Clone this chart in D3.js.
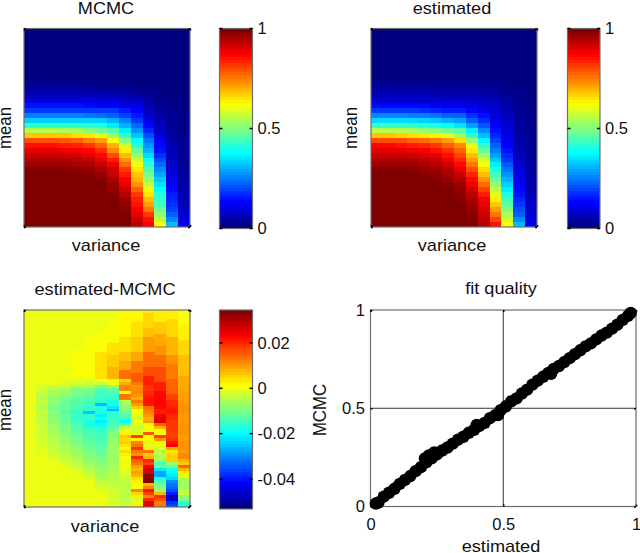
<!DOCTYPE html>
<html>
<head>
<meta charset="utf-8">
<script src="https://cdn.jsdelivr.net/npm/d3@7"></script>
<style>
    html, body { margin: 0; padding: 0; background: #fff; overflow: hidden; }
    text { font-family: "Liberation Sans", sans-serif; fill: #111; }
</style>
</head>
<body>
<svg id="chart" width="640" height="553"></svg>
<script>
// values, rows run top to bottom, 14 variance columns
const mcmc_rows = [ // hundredths
    [0,0,0,0,0,0,0,0,0,0,0,0,0,0],
    [0,0,0,0,0,0,0,0,0,0,0,0,0,0],
    [0,0,0,0,0,0,0,0,0,0,0,0,0,0],
    [0,0,0,0,0,0,0,0,0,0,0,0,0,0],
    [0,0,0,0,0,0,0,0,0,0,0,0,0,0],
    [0,0,0,0,0,0,0,0,0,0,0,0,0,0],
    [0,0,0,0,0,0,0,0,0,0,0,0,0,0],
    [0,0,0,0,0,0,0,0,0,0,0,0,0,0],
    [0,0,0,0,0,0,0,0,0,0,0,0,0,0],
    [0,0,0,0,0,0,0,0,0,0,0,0,0,0],
    [1,1,1,1,1,1,1,0,0,0,0,0,0,0],
    [2,2,2,2,2,2,1,1,1,0,0,0,0,0],
    [4,4,4,4,4,3,3,3,2,1,1,0,0,0],
    [6,6,6,6,6,6,6,6,5,3,2,1,0,0],
    [9,9,9,9,9,9,9,9,7,7,3,1,1,0],
    [14,14,14,14,14,13,12,12,10,10,5,2,1,0],
    [18,18,18,18,18,18,18,18,15,12,6,3,1,0],
    [25,25,25,25,25,24,23,22,19,15,7,4,2,1],
    [33,33,33,33,33,33,33,30,25,18,10,5,2,1],
    [42,42,42,42,42,41,40,36,30,23,13,6,2,1],
    [55,55,55,54,54,50,48,45,36,27,16,7,3,1],
    [68,68,68,68,66,65,60,52,42,32,20,9,3,1],
    [80,80,80,79,78,75,72,62,50,38,24,11,4,2],
    [86,86,86,85,84,82,78,70,58,42,27,13,5,2],
    [90,90,90,89,88,87,83,74,64,47,30,14,5,2],
    [93,93,93,92,92,90,87,80,69,52,34,17,6,2],
    [95,95,95,95,94,93,90,85,73,57,38,20,6,2],
    [97,97,97,97,96,96,93,89,77,62,42,23,7,2],
    [100,100,100,99,99,98,96,92,82,65,45,26,8,3],
    [100,100,100,100,100,99,98,93,85,68,49,29,9,3],
    [100,100,100,100,100,100,99,96,88,70,52,32,10,3],
    [100,100,100,100,100,100,100,97,90,73,57,35,12,4],
    [100,100,100,100,100,100,100,98,93,78,62,38,13,4],
    [100,100,100,100,100,100,100,99,95,82,65,41,15,5],
    [100,100,100,100,100,100,100,100,97,85,69,43,16,5],
    [100,100,100,100,100,100,100,100,98,86,72,44,17,6],
    [100,100,100,100,100,100,100,100,99,88,76,48,19,7],
    [100,100,100,100,100,100,100,100,100,90,82,52,22,8],
    [100,100,100,100,100,100,100,100,100,92,86,56,26,9],
    [100,100,100,100,100,100,100,100,100,94,88,62,31,11]
]

const estimated_rows = [ // hundredths
    [0,0,0,0,0,0,0,0,0,0,0,0,0,0],
    [0,0,0,0,0,0,0,0,0,0,0,0,0,0],
    [0,0,0,0,0,0,0,0,0,0,0,0,0,0],
    [0,0,0,0,0,0,0,0,0,0,0,0,0,0],
    [0,0,0,0,0,0,0,0,0,0,0,0,0,0],
    [0,0,0,0,0,0,0,0,0,0,0,0,0,0],
    [0,0,0,0,0,0,0,0,0,0,0,0,0,0],
    [0,0,0,0,0,0,0,0,0,0,0,0,0,0],
    [0,0,0,0,0,0,0,0,0,0,0,0,0,0],
    [0,0,0,0,0,0,0,0,0,0,0,0,0,0],
    [1,1,1,1,1,1,1,1,1,1,1,0,0,0],
    [2,2,2,2,2,2,2,2,2,2,1,1,0,0],
    [4,4,4,4,4,3,3,3,3,3,3,1,1,0],
    [6,6,6,6,6,5,5,5,5,5,4,2,1,0],
    [8,8,8,8,8,8,8,8,7,7,6,3,1,0],
    [13,13,13,13,13,12,11,11,9,8,7,4,1,1],
    [18,18,18,18,17,16,15,15,13,10,8,5,2,1],
    [26,26,26,25,25,24,22,22,17,14,9,6,2,1],
    [34,34,34,34,33,32,30,28,22,17,10,7,3,1],
    [43,43,43,42,41,40,38,35,28,21,12,8,3,1],
    [55,55,55,54,52,50,48,46,36,26,14,9,3,1],
    [68,68,67,66,65,64,60,53,42,31,16,10,3,2],
    [80,80,80,78,77,75,72,66,52,37,19,11,4,2],
    [87,87,86,85,84,82,78,74,60,42,22,12,5,2],
    [90,90,90,89,88,86,83,78,65,47,25,14,5,2],
    [93,93,93,92,91,90,86,81,69,53,28,16,6,2],
    [95,95,95,95,94,92,89,84,72,58,32,18,7,3],
    [97,97,97,97,96,95,92,87,76,62,36,21,8,3],
    [100,100,100,99,98,97,95,90,80,66,40,24,9,3],
    [100,100,100,100,99,98,96,93,84,69,44,27,10,4],
    [100,100,100,100,100,99,98,95,87,73,48,30,11,4],
    [100,100,100,100,100,100,99,97,89,77,52,33,12,4],
    [100,100,100,100,100,100,100,98,92,81,56,36,13,5],
    [100,100,100,100,100,100,100,99,94,85,60,40,14,5],
    [100,100,100,100,100,100,100,99,96,88,64,44,16,6],
    [100,100,100,100,100,100,100,100,97,90,68,47,18,7],
    [100,100,100,100,100,100,100,100,98,91,72,50,20,7],
    [100,100,100,100,100,100,100,100,99,92,76,54,22,8],
    [100,100,100,100,100,100,100,100,100,94,81,58,26,9],
    [100,100,100,100,100,100,100,100,100,95,86,62,31,11]
]

// this one is listed column by column, 66 rows each, thousandths
const diff_columns = [
    [0,0,0,0,0,0,0,0,0,0,0,0,0,0,0,0,0,0,0,0,0,0,0,0,0,0,0,0,0,0,0,0,0,0,0,0,0,0,0,0,0,0,0,0,0,0,0,0,0,0,0,0,0,0,0,0,0,0,0,0,0,0,0,0,0,0],
    [0,0,0,0,0,0,0,0,0,0,0,0,0,0,0,0,0,0,0,0,0,0,0,0,0,-2,-3,-3,-4,-5,-3,-4,-5,-4,-3,-4,-3,-4,-3,-3,-2,-3,-2,-2,-2,-2,-1,-1,-1,0,0,0,0,0,0,0,0,0,0,0,0,0,0,0,0,0],
    [0,0,0,0,0,0,0,0,0,0,0,0,0,0,0,0,0,0,0,0,0,0,0,0,0,-4,-5,-6,-7,-8,-8,-9,-10,-9,-8,-9,-8,-8,-7,-7,-6,-6,-5,-5,-4,-4,-3,-3,-2,-2,-1,0,0,0,0,0,0,0,0,0,0,0,0,0,0,0],
    [0,0,0,0,0,0,0,0,0,0,0,0,0,0,0,0,0,2,0,0,0,0,0,-1,-1,-4,-6,-7,-9,-10,-11,-12,-12,-11,-13,-12,-11,-11,-10,-10,-9,-9,-8,-8,-7,-6,-6,-5,-4,-4,-3,-2,-1,0,0,0,0,0,0,0,0,0,0,0,0,0],
    [0,0,0,0,0,0,0,0,0,0,0,0,0,1,1,1,1,1,1,1,1,1,0,0,-2,-6,-9,-10,-11,-12,-13,-14,-14,-15,-16,-15,-17,-15,-14,-13,-13,-12,-11,-10,-10,-9,-8,-7,-7,-6,-5,-4,-3,-2,-1,0,0,0,0,0,0,0,0,0,0,0],
    [0,0,0,0,0,0,0,0,0,1,1,1,1,1,1,1,1,1,1,1,1,1,1,-1,-3,-6,-9,-11,-12,-13,-14,-15,-16,-16,-25,-16,-16,-18,-19,-16,-15,-14,-14,-13,-12,-12,-11,-10,-9,-9,-8,-7,-6,-5,-4,-3,-1,0,0,0,0,0,0,0,0,0],
    [0,0,0,0,0,0,0,1,1,1,1,1,1,1,4,4,4,4,4,4,4,4,4,1,-3,-10,-13,-15,-15,-16,-16,-26,-18,-18,-17,-21,-18,-22,-20,-17,-16,-15,-15,-14,-14,-13,-12,-12,-11,-10,-9,-9,-8,-7,-7,-6,-5,-4,-3,-2,-1,0,0,0,0,0],
    [0,0,0,1,1,1,1,1,1,1,1,4,4,4,4,6,6,6,6,8,8,8,8,-1,2,-8,-12,-14,-15,-16,-18,-18,-22,-27,-17,-16,-16,-15,-14,-13,-10,-9,-9,-8,-8,-7,-7,-7,-7,-7,-7,-6,-6,-6,-5,-5,-5,-4,-4,-3,-2,-2,-2,-2,-2,-2],
    [2,2,2,2,2,2,2,2,2,4,4,4,4,4,7,7,7,9,9,9,14,14,14,5,9,12,12,1,14,13,-5,-7,-8,-9,-12,-13,-16,-20,-12,-5,2,3,6,5,6,4,2,5,3,1,0,0,0,0,-1,-2,-3,-4,-4,-4,-4,-4,-4,-4,-4,-3],
    [2,2,2,2,4,4,4,4,4,6,6,6,6,6,9,9,9,13,13,13,13,16,16,16,13,11,12,12,11,9,13,10,6,2,1,0,-3,1,-1,-3,-1,-1,18,3,12,14,19,13,11,21,15,14,10,8,10,8,4,3,1,1,12,5,3,-2,2,3],
    [3,5,5,5,5,5,7,7,7,10,10,10,10,10,14,14,14,14,14,17,17,17,21,21,21,19,19,20,21,22,22,22,14,13,12,10,8,10,2,1,0,16,1,2,3,-1,3,14,6,8,21,18,24,28,27,33,34,34,8,12,22,18,12,20,25,25],
    [3,3,3,3,6,6,6,6,9,9,9,9,11,11,11,14,14,14,14,17,17,17,17,17,21,21,21,23,23,23,24,24,23,21,21,24,26,26,15,8,2,1,18,10,3,0,-2,-4,-5,-5,-8,-14,-10,-22,-28,-28,-18,-14,-10,-9,-8,8,20,16,13,13],
    [3,3,3,5,5,5,5,5,5,8,8,8,8,8,8,11,11,11,13,13,13,13,13,15,15,15,15,15,18,18,20,20,21,22,22,20,20,19,19,19,19,18,18,19,22,24,9,4,5,6,6,-8,-12,-18,-20,-22,-24,-30,-32,-33,-36,-40,-47,-47,-38,-36],
    [1,1,1,1,1,3,3,3,3,3,5,5,5,5,5,7,7,7,7,7,7,7,9,9,9,9,9,10,10,10,10,11,11,11,11,10,10,10,11,11,11,11,10,10,11,11,11,10,12,12,8,6,15,8,3,0,-5,-6,-7,-7,-4,-3,-8,-10,-17,-17]
]
const diff_rows = d3.transpose(diff_columns)

const fit_estimated = [.02,.03,.05,.07,.09,.11,.13,.15,.17,.19,.205,.21,.22,.23,.24,.25,.27,.29,.31,.33,.35,.37,.39,.40,.41,.43,.45,.47,.48,.49,.51,.53,.55,.57,.59,.61,.63,.65,.67,.68,.69,.71,.73,.75,.77,.79,.81,.83,.85,.87,.89,.91,.93,.95,.97,.98]
const fit_mcmc = [.015,.02,.05,.07,.09,.115,.135,.155,.18,.20,.245,.225,.26,.245,.275,.265,.285,.30,.32,.34,.355,.375,.39,.415,.41,.425,.45,.465,.465,.49,.51,.535,.55,.575,.595,.62,.64,.66,.68,.675,.70,.715,.735,.755,.775,.795,.815,.83,.85,.87,.885,.905,.925,.95,.97,.985]

const unit_ticks = [0, 0.5, 1]
const diff_ticks = [-0.04, -0.02, 0, 0.02]
const diff_range = [-0.0532, 0.0345]

const jet_stops = [0, 0.125, 0.375, 0.625, 0.875, 1]
const jet_colors = ["#000080", "#0000ff", "#00ffff", "#ffff00", "#ff0000", "#800000"]
const jet = d3.scaleLinear().domain(jet_stops).range(jet_colors).clamp(true)

const svg = d3.select("#chart")
const border_color = "#6e6e6e"
const label_size = 16.8
const label_stretch = 1.08 // the picture is a little wider than it is tall
const tick_size = 16.5

function drawHeatmap(rows, unit, range, box) {
    let columns = d3.range(rows[0].length)
    let x = d3.scaleBand().domain(columns).range([box.x0, box.x1])
    let y = d3.scaleBand().domain(d3.range(rows.length)).range([box.y0, box.y1])
    let color = d3.scaleLinear().domain(range).range([0, 1])

    let g = svg.append("g").attr("shape-rendering", "crispEdges")
    rows.forEach((row, ri) => {
        g.selectAll(".c" + ri).data(row).enter().append("rect")
            .attr("x", (d, i) => x(i)).attr("y", y(ri))
            .attr("width", x.bandwidth()).attr("height", y.bandwidth())
            .attr("fill", d => jet(color(d * unit)))
    })
    drawFrame(box)

    // only the corner ticks of the imagesc axes are left
    let ax = d3.scaleLinear().domain([0, 1]).range([box.x0, box.x1])
    let ay = d3.scaleLinear().domain([0, 1]).range([box.y1, box.y0])
    drawTicks(ax, ay, [0, 1], [0, 1], box)
}

function drawFrame(box) {
    svg.append("rect")
        .attr("x", box.x0).attr("y", box.y0)
        .attr("width", box.x1 - box.x0).attr("height", box.y1 - box.y0)
        .attr("fill", "none").attr("stroke", border_color).attr("stroke-width", 1.2)
}

function drawTicks(x, y, x_values, y_values, box) {
    let tick_len = 2
    let groups = [
        svg.append("g").attr("transform", `translate(0,${box.y1})`).call(d3.axisBottom(x).tickValues(x_values).tickSize(-tick_len).tickFormat("")),
        svg.append("g").attr("transform", `translate(0,${box.y0})`).call(d3.axisTop(x).tickValues(x_values).tickSize(-tick_len).tickFormat("")),
        svg.append("g").attr("transform", `translate(${box.x0},0)`).call(d3.axisLeft(y).tickValues(y_values).tickSize(-tick_len).tickFormat("")),
        svg.append("g").attr("transform", `translate(${box.x1},0)`).call(d3.axisRight(y).tickValues(y_values).tickSize(-tick_len).tickFormat(""))
    ]
    groups.forEach(a => {
        a.select(".domain").remove()
        a.selectAll("line").attr("stroke", "#000").attr("stroke-width", 1.5)
    })
}

function drawColorbar(range, ticks, box) {
    let levels = d3.range(64)
    let y = d3.scaleLinear().domain(range).range([box.y1, box.y0])
    let level = d3.scaleBand().domain(levels).range([box.y1, box.y0])
    svg.append("g").attr("shape-rendering", "crispEdges")
        .selectAll("rect").data(levels).enter().append("rect")
        .attr("x", box.x0).attr("width", box.x1 - box.x0)
        .attr("y", d => level(d)).attr("height", level.bandwidth())
        .attr("fill", d => jet(d / 63))
    drawFrame(box)

    let right = svg.append("g").attr("transform", `translate(${box.x1},0)`)
        .call(d3.axisRight(y).tickValues(ticks).tickSize(0).tickPadding(5).tickFormat(d => d))
    right.select(".domain").remove()
    right.selectAll("text").attr("font-size", tick_size)

    ticks.forEach(t => {
        [[box.x0, box.x0 + 3], [box.x1 - 3, box.x1]].forEach(p => {
            svg.append("line")
                .attr("x1", p[0]).attr("x2", p[1]).attr("y1", y(t)).attr("y2", y(t))
                .attr("stroke", "#000").attr("stroke-width", 1.5)
        })
    })
}

function drawLabels(title, xlabel, ylabel, pos) {
    let stretch = `scale(${label_stretch},1)`
    svg.append("text").attr("text-anchor", "middle").attr("font-size", label_size)
        .attr("transform", `translate(${pos.cx},${pos.title_y}) ${stretch}`).text(title)
    svg.append("text").attr("text-anchor", "middle").attr("font-size", label_size)
        .attr("transform", `translate(${pos.cx},${pos.xlabel_y}) ${stretch}`).text(xlabel)
    svg.append("text").attr("text-anchor", "middle").attr("font-size", label_size)
        .attr("transform", `translate(${pos.ylabel_x},${pos.cy}) ${stretch} rotate(-90)`).text(ylabel)
}

function drawFit(box) {
    let x = d3.scaleLinear().domain([0, 1]).range([box.x0, box.x1])
    let y = d3.scaleLinear().domain([0, 1]).range([box.y1, box.y0])

    // grid lines at 0.5
    svg.append("g").selectAll("line").data([0.5]).enter().append("line")
        .attr("x1", d => x(d)).attr("x2", d => x(d)).attr("y1", box.y0).attr("y2", box.y1)
        .attr("stroke", "#333")
    svg.append("g").selectAll("line").data([0.5]).enter().append("line")
        .attr("x1", box.x0).attr("x2", box.x1).attr("y1", d => y(d)).attr("y2", d => y(d))
        .attr("stroke", "#333")
    drawFrame(box)
    drawTicks(x, y, unit_ticks, unit_ticks, box)

    svg.append("g").selectAll("circle").data(fit_estimated).enter().append("circle")
        .attr("cx", d => x(d)).attr("cy", (d, i) => y(fit_mcmc[i])).attr("r", 6.2)
        .attr("fill", "#000")

    let bottom = svg.append("g").attr("transform", `translate(0,${box.y1})`)
        .call(d3.axisBottom(x).tickValues(unit_ticks).tickSize(0).tickPadding(12).tickFormat(d => d))
    let left = svg.append("g").attr("transform", `translate(${box.x0},0)`)
        .call(d3.axisLeft(y).tickValues(unit_ticks).tickSize(0).tickPadding(5.5).tickFormat(d => d))
    ;[bottom, left].forEach(a => {
        a.select(".domain").remove()
        a.selectAll("text").attr("font-size", tick_size)
    })
}

const box_mcmc = { x0: 24, x1: 190, y0: 28.5, y1: 227 }
const box_est = { x0: 371, x1: 537, y0: 28.5, y1: 227 }
const box_diff = { x0: 24, x1: 190, y0: 310, y1: 507 }
const box_fit = { x0: 370.5, x1: 636, y0: 310, y1: 506.5 }

drawHeatmap(mcmc_rows, 0.01, [0, 1], box_mcmc)
drawColorbar([0, 1], unit_ticks, { x0: 219.5, x1: 252.5, y0: 28.5, y1: 228.5 })
drawLabels("MCMC", "variance", "mean", { cx: 106, cy: 128, title_y: 14, xlabel_y: 251, ylabel_x: 10.7 })

drawHeatmap(estimated_rows, 0.01, [0, 1], box_est)
drawColorbar([0, 1], unit_ticks, { x0: 567.5, x1: 600, y0: 28.5, y1: 228.5 })
drawLabels("estimated", "variance", "mean", { cx: 452, cy: 128, title_y: 14, xlabel_y: 251, ylabel_x: 357.3 })

drawHeatmap(diff_rows, 0.001, diff_range, box_diff)
drawColorbar(diff_range, diff_ticks, { x0: 219.5, x1: 252.5, y0: 310, y1: 509 })
drawLabels("estimated-MCMC", "variance", "mean", { cx: 105, cy: 410, title_y: 295, xlabel_y: 532, ylabel_x: 10.7 })

drawFit(box_fit)
drawLabels("fit quality", "estimated", "MCMC", { cx: 501, cy: 410, title_y: 294, xlabel_y: 551.5, ylabel_x: 326 })
</script>
</body>
</html>
